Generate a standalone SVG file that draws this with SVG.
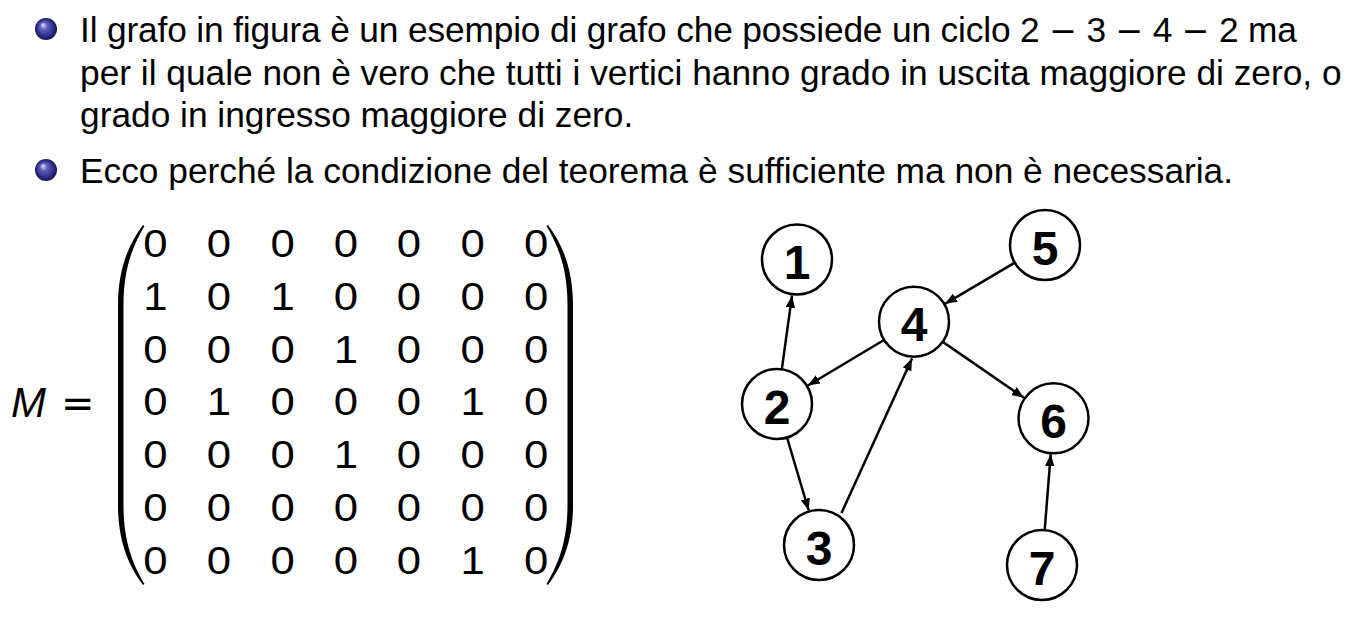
<svg xmlns="http://www.w3.org/2000/svg" width="1355" height="625" viewBox="0 0 1355 625">
<defs>
<radialGradient id="ball" cx="0.5" cy="0.5" r="0.5" fx="0.35" fy="0.3">
<stop offset="0" stop-color="#e0e0ff"/>
<stop offset="0.35" stop-color="#5c5cbc"/>
<stop offset="0.8" stop-color="#2a2a84"/>
<stop offset="1" stop-color="#14144a"/>
</radialGradient>
<marker id="arr" markerUnits="userSpaceOnUse" markerWidth="13" markerHeight="10" refX="12" refY="4.75" orient="auto">
<path d="M0,0 L12,4.75 L0,9.5 Z" fill="#000"/>
</marker>
<path id="paren" d="M143,225 C128,245 118,270 118,305 L118,505 C118,540 128,565 143,585 L144.5,584 C132,563 123.5,540 123.5,505 L123.5,305 C123.5,270 132,247 144.5,226 Z"/>
</defs>
<style>
.t{font-family:"Liberation Sans",Arial,sans-serif;font-size:35.3px;fill:#000}
.m{font-family:"Liberation Sans",Arial,sans-serif;font-size:38px;fill:#000;text-anchor:middle}
.n circle{fill:#fff;stroke:#000;stroke-width:2.5}
.n text{font-family:"Liberation Sans",Arial,sans-serif;font-size:48px;font-weight:bold;text-anchor:middle;fill:#000}
.e line{stroke:#000;stroke-width:2.5;marker-end:url(#arr)}
.ms{font-family:"DejaVu Sans",sans-serif;font-size:33px}
</style>
<rect width="1355" height="625" fill="#fff"/>
<g id="text">
<circle cx="46" cy="29" r="11" fill="url(#ball)"/>
<text class="t" x="80" y="42" textLength="1217" lengthAdjust="spacing">Il grafo in figura è un esempio di grafo che possiede un ciclo 2 <tspan class="ms">−</tspan> 3 <tspan class="ms">−</tspan> 4 <tspan class="ms">−</tspan> 2 ma</text>
<text class="t" x="80" y="84.5">per il quale non è vero che tutti i vertici hanno grado in uscita maggiore di zero, o</text>
<text class="t" x="80" y="127">grado in ingresso maggiore di zero.</text>
<circle cx="46" cy="170" r="11" fill="url(#ball)"/>
<text class="t" x="80" y="183">Ecco perché la condizione del teorema è sufficiente ma non è necessaria.</text>
</g>
<g id="matrix">
<text x="11" y="417" style="font-family:'Liberation Sans',Arial,sans-serif;font-size:42px;font-style:italic">M</text>
<text x="61" y="417" style="font-family:'DejaVu Sans',sans-serif;font-size:40px">=</text>
<use href="#paren" fill="#000"/>
<use href="#paren" fill="#000" transform="translate(691,0) scale(-1,1)"/>
<g transform="translate(345.5,0) scale(1.15,1) translate(-345.5,0)">
<text class="m" y="257"><tspan x="180.3">0</tspan><tspan x="235.5">0</tspan><tspan x="290.8">0</tspan><tspan x="345.9">0</tspan><tspan x="400.7">0</tspan><tspan x="456">0</tspan><tspan x="511.2">0</tspan></text>
<text class="m" y="310"><tspan x="180.3">1</tspan><tspan x="235.5">0</tspan><tspan x="290.8">1</tspan><tspan x="345.9">0</tspan><tspan x="400.7">0</tspan><tspan x="456">0</tspan><tspan x="511.2">0</tspan></text>
<text class="m" y="363"><tspan x="180.3">0</tspan><tspan x="235.5">0</tspan><tspan x="290.8">0</tspan><tspan x="345.9">1</tspan><tspan x="400.7">0</tspan><tspan x="456">0</tspan><tspan x="511.2">0</tspan></text>
<text class="m" y="415.5"><tspan x="180.3">0</tspan><tspan x="235.5">1</tspan><tspan x="290.8">0</tspan><tspan x="345.9">0</tspan><tspan x="400.7">0</tspan><tspan x="456">1</tspan><tspan x="511.2">0</tspan></text>
<text class="m" y="468.5"><tspan x="180.3">0</tspan><tspan x="235.5">0</tspan><tspan x="290.8">0</tspan><tspan x="345.9">1</tspan><tspan x="400.7">0</tspan><tspan x="456">0</tspan><tspan x="511.2">0</tspan></text>
<text class="m" y="521.5"><tspan x="180.3">0</tspan><tspan x="235.5">0</tspan><tspan x="290.8">0</tspan><tspan x="345.9">0</tspan><tspan x="400.7">0</tspan><tspan x="456">0</tspan><tspan x="511.2">0</tspan></text>
<text class="m" y="574.5"><tspan x="180.3">0</tspan><tspan x="235.5">0</tspan><tspan x="290.8">0</tspan><tspan x="345.9">0</tspan><tspan x="400.7">0</tspan><tspan x="456">1</tspan><tspan x="511.2">0</tspan></text>
</g>
</g>
<g id="edges" class="e">
<line x1="781.8" y1="369.3" x2="792" y2="295.7"/>
<line x1="884" y1="340" x2="807.9" y2="385.5"/>
<line x1="787" y1="437.5" x2="808.7" y2="510.5"/>
<line x1="841.5" y1="513" x2="912" y2="358.5"/>
<line x1="1014.8" y1="262.7" x2="945" y2="303.8"/>
<line x1="942.8" y1="341.9" x2="1023.9" y2="397.8"/>
<line x1="1044.7" y1="530.1" x2="1050.7" y2="454.2"/>
</g>
<g id="node1" class="n"><circle cx="797" cy="259.5" r="35"/><text x="797" y="279">1</text></g>
<g id="node2" class="n"><circle cx="777" cy="404" r="35"/><text x="777" y="423.5">2</text></g>
<g id="node3" class="n"><circle cx="819" cy="545" r="35"/><text x="819" y="564.5">3</text></g>
<g id="node4" class="n"><circle cx="914" cy="321.7" r="35"/><text x="914" y="341">4</text></g>
<g id="node5" class="n"><circle cx="1045" cy="245" r="35"/><text x="1045" y="264.5">5</text></g>
<g id="node6" class="n"><circle cx="1053.5" cy="418.3" r="35"/><text x="1053.5" y="437.8">6</text></g>
<g id="node7" class="n"><circle cx="1042" cy="565" r="35"/><text x="1042" y="584.5">7</text></g>
</svg>
